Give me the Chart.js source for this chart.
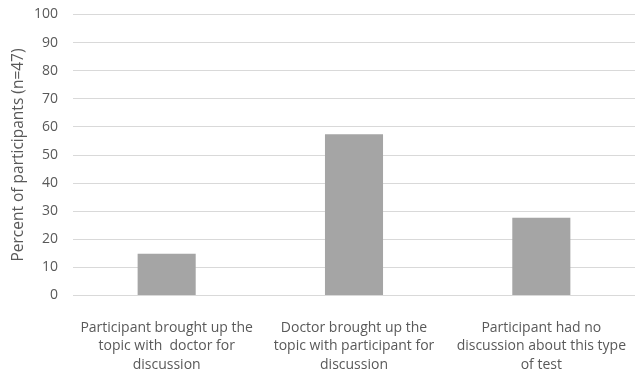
<!DOCTYPE html>
<html>
<head>
<meta charset="utf-8">
<script src="https://cdn.jsdelivr.net/npm/chart.js@4"></script>
<style>
  html, body { margin: 0; padding: 0; background: #fff; }
  #wrap { width: 635px; height: 369px; }
</style>
</head>
<body>
<div id="wrap"><canvas id="chart"></canvas></div>
<script>
const categories = [
  ["Participant brought up the", "topic with  doctor for", "discussion"],
  ["Doctor brought up the", "topic with participant for", "discussion"],
  ["Participant had no", "discussion about this type", "of test"],
];
const percents = [14.9, 57.4, 27.7];
const yTicks = { min: 0, max: 100, step: 10 };

const fontFamily = "'Open Sans', sans-serif";
const textColor = "#595959";

new Chart(document.getElementById("chart"), {
  type: "bar",
  data: {
    labels: categories,
    datasets: [
      {
        data: percents,
        backgroundColor: "#a5a5a5",
        barPercentage: 0.31,
        categoryPercentage: 1,
      },
    ],
  },
  options: {
    responsive: true,
    maintainAspectRatio: false,
    animation: false,
    layout: { padding: 0 },
    plugins: {
      legend: { display: false },
      tooltip: { enabled: false },
    },
    scales: {
      x: {
        grid: { display: false },
        border: { color: "#d9d9d9" },
        ticks: {
          color: textColor,
          font: { family: fontFamily, size: 14, lineHeight: 1.32 },
          maxRotation: 0,
          autoSkip: false,
          padding: 15,
        },
        // labels run almost to the bottom edge; keep the plot tall and full width
        afterFit: (scale) => {
          scale.height = 73.5;
          scale.paddingLeft = 0;
          scale.paddingRight = 0;
        },
      },
      y: {
        min: yTicks.min,
        max: yTicks.max,
        grid: { color: "#d9d9d9", drawTicks: false },
        border: { display: false },
        ticks: {
          stepSize: yTicks.step,
          color: textColor,
          font: { family: fontFamily, size: 14 },
          padding: 15,
        },
        title: {
          display: true,
          text: "Percent of participants (n=47)",
          color: textColor,
          font: { family: fontFamily, size: 15.5 },
          padding: { top: 9, bottom: 0 },
        },
        afterFit: (scale) => {
          scale.width = 73;
          scale.paddingTop = 14.5;
          scale.paddingBottom = 0;
        },
      },
    },
  },
});
</script>
</body>
</html>
